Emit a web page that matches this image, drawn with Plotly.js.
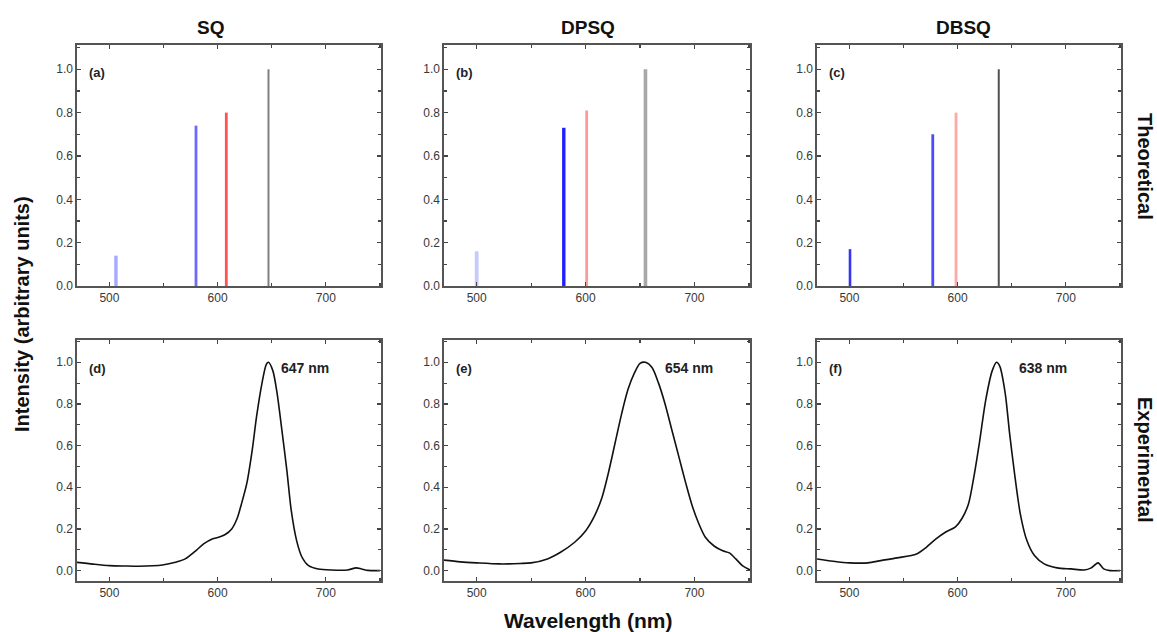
<!DOCTYPE html>
<html>
<head>
<meta charset="utf-8">
<script src="https://cdn.plot.ly/plotly-3.0.1.min.js"></script>
<style>html,body{margin:0;padding:0;background:#fff;}#chart{width:1157px;height:632px;}</style>
</head>
<body>
<div id="chart"></div>
<script>
// ---------- DATA ----------
const columns = ["SQ", "DPSQ", "DBSQ"];
const rowLabels = ["Theoretical", "Experimental"];
const panelTags = ["(a)", "(b)", "(c)", "(d)", "(e)", "(f)"];
const peakLabels = ["647 nm", "654 nm", "638 nm"];

// Theoretical transitions (wavelength nm, relative intensity)
const sqTheoWl = [506, 580, 608, 647];
const sqTheoI = [0.14, 0.74, 0.80, 1.0];
const dpsqTheoWl = [500, 580, 601, 655];
const dpsqTheoI = [0.16, 0.73, 0.81, 1.0];
const dbsqTheoWl = [500.5, 577, 598.5, 638];
const dbsqTheoI = [0.17, 0.70, 0.80, 1.0];

// Experimental spectra
const sqExpWl = [469, 485, 500, 515, 527, 540, 549, 561, 570, 580, 587, 595, 601, 607, 613, 618, 622, 627, 632, 636, 641, 645, 647, 651, 655, 659, 664, 668, 673, 678, 684, 693, 705, 720, 728, 733, 739, 750];
const sqExpI = [0.040, 0.031, 0.024, 0.022, 0.021, 0.023, 0.027, 0.040, 0.056, 0.096, 0.128, 0.152, 0.160, 0.173, 0.200, 0.250, 0.320, 0.420, 0.580, 0.740, 0.900, 0.990, 1.000, 0.960, 0.850, 0.690, 0.480, 0.290, 0.144, 0.064, 0.024, 0.008, 0.003, 0.003, 0.013, 0.008, 0.001, 0.000];
const dpsqExpWl = [470, 485, 500, 521, 540, 550, 565, 577, 590, 600, 608, 615, 621, 627, 633, 639, 645, 650, 655, 661, 667, 673, 679, 686, 692, 698, 704, 710, 718, 726, 732, 738, 744, 751];
const dpsqExpI = [0.050, 0.042, 0.037, 0.032, 0.034, 0.037, 0.056, 0.088, 0.136, 0.190, 0.260, 0.350, 0.470, 0.610, 0.750, 0.870, 0.950, 0.995, 1.000, 0.975, 0.900, 0.800, 0.680, 0.540, 0.420, 0.310, 0.225, 0.160, 0.118, 0.095, 0.085, 0.056, 0.024, 0.003];
const dbsqExpWl = [470, 485, 500, 517, 529, 544, 562, 571, 580, 589, 598, 604, 610, 615, 620, 626, 632, 636, 639, 644, 648, 653, 658, 664, 671, 680, 692, 705, 717, 723, 727, 730, 735, 741, 750];
const dbsqExpI = [0.056, 0.045, 0.037, 0.037, 0.048, 0.061, 0.080, 0.112, 0.152, 0.185, 0.210, 0.250, 0.320, 0.450, 0.610, 0.820, 0.960, 1.000, 0.980, 0.850, 0.660, 0.450, 0.270, 0.144, 0.072, 0.032, 0.013, 0.008, 0.003, 0.012, 0.028, 0.037, 0.008, 0.000, 0.000];

// ---------- STYLE ----------
const theoColors = [
  ["#a4aaff", "#6a6aff", "#ff5252", "#808080"],
  ["#c6caff", "#2020ff", "#ff9a9a", "#a8a8a8"],
  ["#3636f0", "#4a4aff", "#ffa8a8", "#505050"]
];
const theoWidths = [
  [3.4, 2.8, 2.8, 2.0],
  [3.8, 3.4, 2.8, 3.6],
  [2.6, 2.8, 2.8, 2.0]
];
const peakLabelAnchor = [657, 671, 655]; // where the peak labels start (nm)

const theoWl = [sqTheoWl, dpsqTheoWl, dbsqTheoWl];
const theoI = [sqTheoI, dpsqTheoI, dbsqTheoI];
const expWl = [sqExpWl, dpsqExpWl, dbsqExpWl];
const expI = [sqExpI, dpsqExpI, dbsqExpI];

const W = 1157, H = 632;
const colPx = [[77, 381], [444, 750], [817, 1121]];
const rowPx = [[45, 286], [340, 581]];
const px = v => v / W;
const py = v => 1 - v / H;

const font = "Liberation Sans, Arial, Helvetica, sans-serif";
const data = [];
const layout = {
  width: W, height: H,
  margin: {l: 0, r: 0, t: 0, b: 0},
  paper_bgcolor: "#fff", plot_bgcolor: "#fff",
  showlegend: false,
  font: {family: font, color: "#333", size: 12},
  annotations: []
};

function xAxis(c, r, anchor) {
  return {
    domain: [px(colPx[c][0]), px(colPx[c][1])],
    anchor: anchor,
    range: [470, 751],
    tick0: 500, dtick: 100,
    ticks: "inside", ticklen: 4, tickwidth: 1.2, tickcolor: "#444",
    minor: {dtick: 50, ticks: "inside", ticklen: 3, tickcolor: "#444", tickwidth: 1.2},
    showline: true, linecolor: "#555", linewidth: 1.6, mirror: "ticks",
    showgrid: false, zeroline: false,
    tickfont: {family: font, size: 12, color: "#383838"},
    fixedrange: true
  };
}
function yAxis(c, r, anchor) {
  return {
    domain: [py(rowPx[r][1]), py(rowPx[r][0])],
    anchor: anchor,
    range: r === 0 ? [0, 1.112] : [-0.05, 1.107],
    tick0: 0, dtick: 0.2, tickformat: ".1f",
    ticks: "inside", ticklen: 4, tickwidth: 1.2, tickcolor: "#444",
    minor: {dtick: 0.1, ticks: "inside", ticklen: 3, tickcolor: "#444", tickwidth: 1.2},
    showline: true, linecolor: "#555", linewidth: 1.6, mirror: "ticks",
    showgrid: false, zeroline: false,
    tickfont: {family: font, size: 12, color: "#383838"},
    fixedrange: true
  };
}

for (let r = 0; r < 2; r++) {
  for (let c = 0; c < 3; c++) {
    const idx = r * 3 + c + 1;
    const xa = idx === 1 ? "x" : "x" + idx;
    const ya = idx === 1 ? "y" : "y" + idx;
    layout[idx === 1 ? "xaxis" : "xaxis" + idx] = xAxis(c, r, ya);
    layout[idx === 1 ? "yaxis" : "yaxis" + idx] = yAxis(c, r, xa);
    if (r === 0) {
      theoWl[c].forEach((wl, k) => {
        data.push({
          type: "scatter", mode: "lines", xaxis: xa, yaxis: ya,
          x: [wl, wl], y: [0, theoI[c][k]],
          line: {color: theoColors[c][k], width: theoWidths[c][k]},
          cliponaxis: true
        });
      });
    } else {
      data.push({
        type: "scatter", mode: "lines", x: expWl[c], y: expI[c], xaxis: xa, yaxis: ya,
        line: {color: "#111", width: 1.6, shape: "spline", smoothing: 0.8}
      });
      layout.annotations.push({
        xref: xa, yref: ya, x: peakLabelAnchor[c], y: 1.0, text: "<b>" + peakLabels[c] + "</b>",
        showarrow: false, xanchor: "left", yanchor: "middle", yshift: -6,
        font: {family: font, size: 14, color: "#222"}
      });
    }
    layout.annotations.push({
      xref: "paper", yref: "paper",
      x: px(colPx[c][0] + 10), y: py(rowPx[r][0] + 28),
      text: "<b>" + panelTags[idx - 1] + "</b>", showarrow: false,
      xanchor: "left", yanchor: "middle",
      font: {family: font, size: 13, color: "#222"}
    });
  }
}

// Column titles
const colTitleX = [210, 588, 963];
columns.forEach((t, i) => layout.annotations.push({
  xref: "paper", yref: "paper", x: px(colTitleX[i]), y: py(27),
  text: "<b>" + t + "</b>", showarrow: false, xanchor: "center", yanchor: "middle",
  font: {family: font, size: 19, color: "#111"}
}));
// Row labels on right
const rowLabelY = [166, 460];
rowLabels.forEach((t, i) => layout.annotations.push({
  xref: "paper", yref: "paper", x: px(1145), y: py(rowLabelY[i]),
  text: "<b>" + t + "</b>", showarrow: false, textangle: 90,
  xanchor: "center", yanchor: "middle",
  font: {family: font, size: 20, color: "#111"}
}));
// Axis titles
layout.annotations.push({
  xref: "paper", yref: "paper", x: px(22), y: py(314),
  text: "<b>Intensity (arbitrary units)</b>", showarrow: false, textangle: -90,
  xanchor: "center", yanchor: "middle",
  font: {family: font, size: 20, color: "#111"}
});
layout.annotations.push({
  xref: "paper", yref: "paper", x: px(588), y: py(620),
  text: "<b>Wavelength (nm)</b>", showarrow: false,
  xanchor: "center", yanchor: "middle",
  font: {family: font, size: 21, color: "#111"}
});

Plotly.newPlot("chart", data, layout, {displayModeBar: false, staticPlot: true});
</script>
</body>
</html>
